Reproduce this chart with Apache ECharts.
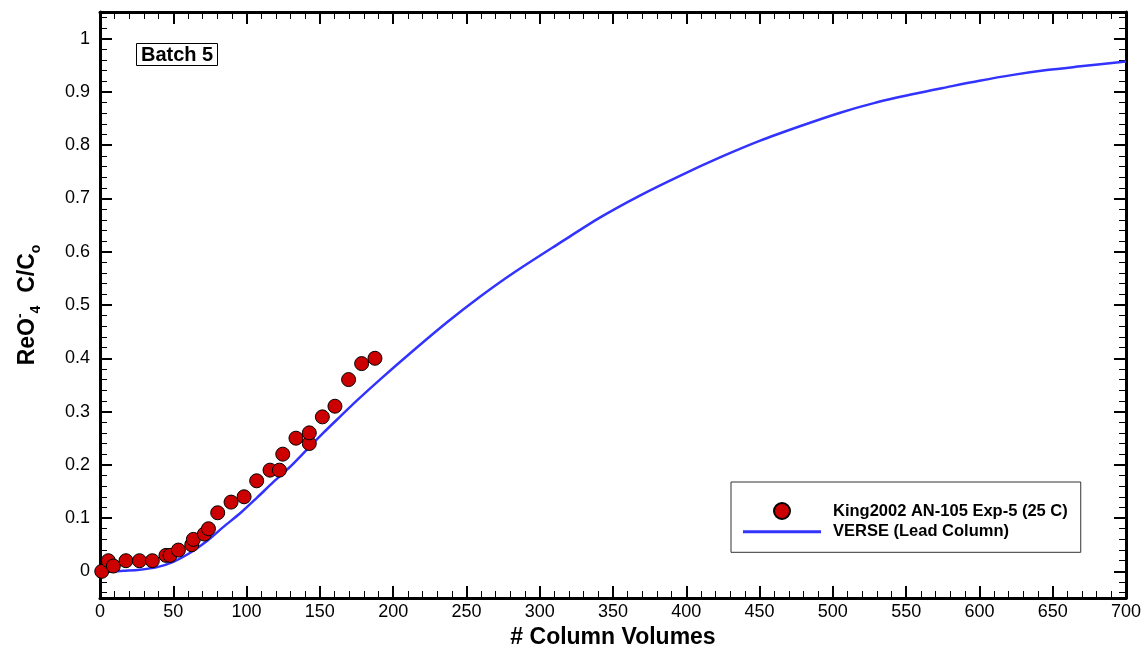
<!DOCTYPE html>
<html>
<head>
<meta charset="utf-8">
<script src="https://cdn.jsdelivr.net/npm/echarts@6/dist/echarts.min.js"></script>
<style>
html,body{margin:0;padding:0;background:#fff;}
#chart{width:1148px;height:654px;}
</style>
</head>
<body>
<div id="chart"></div>
<script>
// Experimental data: King2002 AN-105 Exp-5 (25 C)
const expX = [1.2, 5.7, 9.1, 17.7, 26.9, 35.7, 45, 47.8, 53.5, 62.6, 63.7, 71.2, 74, 80.3, 89.4, 98.3, 106.9, 116, 122.4, 124.7, 133.7, 142.8, 142.8, 151.7, 160.3, 169.6, 178.5, 187.6];
const expY = [0, 0.02, 0.01, 0.02, 0.02, 0.02, 0.03, 0.03, 0.04, 0.05, 0.06, 0.07, 0.08, 0.11, 0.13, 0.14, 0.17, 0.19, 0.19, 0.22, 0.25, 0.24, 0.26, 0.29, 0.31, 0.36, 0.39, 0.40];
// Model curve: VERSE (Lead Column)
const verseX = [0, 10, 16, 27, 39, 50, 61, 73, 84, 96, 107, 118, 130, 141, 152, 164, 175, 191, 214, 237, 259, 282, 314, 341, 368, 396, 423, 450, 478, 505, 528, 555, 578, 600, 623, 646, 669, 700];
const verseY = [0, 0, 0.001, 0.003, 0.008, 0.018, 0.034, 0.057, 0.083, 0.110, 0.138, 0.167, 0.197, 0.228, 0.259, 0.291, 0.320, 0.360, 0.415, 0.468, 0.515, 0.560, 0.617, 0.664, 0.705, 0.743, 0.777, 0.808, 0.836, 0.861, 0.879, 0.896, 0.909, 0.921, 0.932, 0.941, 0.948, 0.957];
const seriesNames = ['King2002 AN-105 Exp-5 (25 C)', 'VERSE (Lead Column)'];
const xRange = [0, 700], xStep = 50;
const yRange = [-0.05, 1.05];

const FONT = "'Liberation Sans', Arial, Helvetica, sans-serif";
const expData = expX.map((x, i) => [x, expY[i]]);
const verseData = verseX.map((x, i) => [x, verseY[i]]);

function yLabel(v) {
  const r = Math.round(v * 10);
  if (Math.abs(v * 10 - r) > 1e-6) return '';
  return String(r / 10);
}

const lineBlack = { show: true, onZero: false, lineStyle: { color: '#000', width: 3 } };
const majorTick = { show: true, inside: true, length: 12, lineStyle: { color: '#000', width: 2 } };
const minorTickX = { show: true, splitNumber: 5, length: 7, lineStyle: { color: '#000', width: 1 } };

function xAxisDef(pos, labels) {
  return {
    type: 'value', position: pos, min: xRange[0], max: xRange[1], interval: xStep,
    axisLine: lineBlack, axisTick: majorTick, minorTick: minorTickX,
    splitLine: { show: false },
    axisLabel: labels ? { show: true, color: '#000', fontSize: 18, fontFamily: FONT, margin: 5 } : { show: false },
    name: labels ? '# Column Volumes' : '',
    nameLocation: 'middle', nameGap: 28,
    nameTextStyle: { color: '#000', fontSize: 23, fontWeight: 'bold', fontFamily: FONT }
  };
}

function yMajor(pos, labels) {
  const ax = {
    type: 'value', position: pos, min: yRange[0], max: yRange[1], splitNumber: 11,
    axisLine: lineBlack, axisTick: majorTick, minorTick: { show: false },
    splitLine: { show: false },
    axisLabel: labels ? { show: true, color: '#000', fontSize: 18, fontFamily: FONT, margin: 10, formatter: yLabel } : { show: false }
  };
  if (labels) {
    ax.name = '{m|ReO}{sp|-}{sb|4}{m|  C/C}{sb|o}';
    ax.nameLocation = 'middle';
    ax.nameRotate = 90;
    ax.nameGap = 57;
    ax.nameTextStyle = {
      color: '#000', fontFamily: FONT,
      rich: {
        m: { fontSize: 23, fontWeight: 'bold', fontFamily: FONT, color: '#000', lineHeight: 30 },
        sb: { fontSize: 14, fontWeight: 'bold', fontFamily: FONT, color: '#000', lineHeight: 14, verticalAlign: 'bottom' },
        sp: { fontSize: 14, fontWeight: 'bold', fontFamily: FONT, color: '#000', lineHeight: 14, verticalAlign: 'top' }
      }
    };
  }
  return ax;
}
function yMinor(pos) {
  return {
    type: 'value', position: pos, min: yRange[0], max: yRange[1], splitNumber: 55,
    axisLine: { show: false, onZero: false },
    axisTick: { show: true, inside: true, length: 7, lineStyle: { color: '#000', width: 1 } },
    splitLine: { show: false }, axisLabel: { show: false }
  };
}

const chart = echarts.init(document.getElementById('chart'), null, { renderer: 'canvas' });
chart.setOption({
  animation: false,
  backgroundColor: '#fff',
  textStyle: { fontFamily: FONT },
  grid: { left: 100, right: 22, top: 12, bottom: 55, containLabel: false },
  title: {
    text: 'Batch 5', left: 136, top: 43,
    borderColor: '#000', borderWidth: 1, padding: [2, 5, 1, 5],
    textStyle: { color: '#000', fontSize: 20, fontWeight: 'bold', fontFamily: FONT, lineHeight: 20 }
  },
  legend: {
    orient: 'vertical', left: 731, top: 482,
    padding: [20, 13, 12, 12],
    itemWidth: 78, itemHeight: 16, itemGap: 3.3,
    borderColor: '#333', borderWidth: 1,
    backgroundColor: '#fff',
    textStyle: { color: '#000', fontSize: 16.5, fontWeight: 'bold', fontFamily: FONT, lineHeight: 16, padding: [0, 0, 0, 7] },
    data: [
      { name: seriesNames[0] },
      { name: seriesNames[1], icon: 'path://M0,0 L78,0 L78,3 L0,3 Z', itemStyle: { color: '#3333ff', borderWidth: 0 } }
    ]
  },
  xAxis: [xAxisDef('bottom', true), xAxisDef('top', false)],
  yAxis: [yMajor('left', true), yMinor('left'), yMajor('right', false), yMinor('right')],
  series: [
    {
      name: seriesNames[1], type: 'line', xAxisIndex: 0, yAxisIndex: 0,
      data: verseData, showSymbol: false, symbol: 'none', smooth: 0.3,
      lineStyle: { color: '#3333ff', width: 2.5 }, itemStyle: { color: '#3333ff' }, z: 2
    },
    {
      name: seriesNames[0], type: 'scatter', xAxisIndex: 0, yAxisIndex: 0,
      data: expData, symbol: 'circle', symbolSize: 14,
      itemStyle: { color: '#cc0000', borderColor: '#000', borderWidth: 1, opacity: 1 }, z: 3
    }
  ]
});
</script>
</body>
</html>
